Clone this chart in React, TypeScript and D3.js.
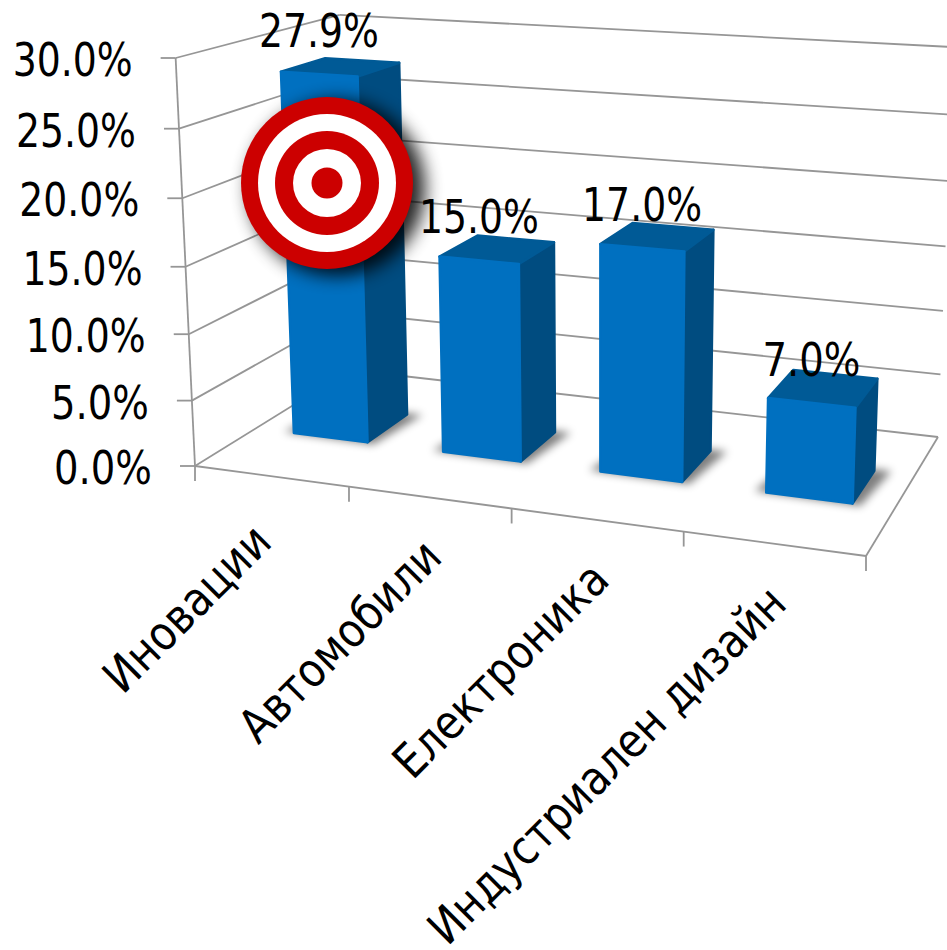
import React from "react";
import * as d3 from "d3";

const categories = ["Иновации", "Автомобили", "Електроника", "Индустриален дизайн"];
const values = [27.9, 15.0, 17.0, 7.0];
const yTicks = [0, 5, 10, 15, 20, 25, 30];

const width = 947;
const height = 950;
const font = "'DejaVu Sans', sans-serif";
const gridColor = "#969696";

// floor corners of the 3D box, in picture pixels: front-left, front-right, back-right, back-left
const floor = [[195, 466], [866, 556], [938, 437], [350, 370]];
const vanish = [600, 9000]; // where the verticals meet
const topOfAxisY = 58;

const makeProjection = () => {
  const [[x0, y0], [x1, y1], [x2, y2], [x3, y3]] = floor;
  const dx1 = x1 - x2, dx2 = x3 - x2, sx = x0 - x1 + x2 - x3;
  const dy1 = y1 - y2, dy2 = y3 - y2, sy = y0 - y1 + y2 - y3;
  const det = dx1 * dy2 - dx2 * dy1;
  const g = (sx * dy2 - dx2 * sy) / det;
  const h = (dx1 * sy - sx * dy1) / det;
  const a = x1 - x0 + g * x1, b = x3 - x0 + h * x3;
  const d = y1 - y0 + g * y1, e = y3 - y0 + h * y3;
  const t = (topOfAxisY - y0) / (vanish[1] - topOfAxisY);
  // u along the categories, v into the depth, w up the value axis (all 0..1)
  return (u: number, v: number, w: number): [number, number] => {
    const z = g * u + h * v + 1 + w * t;
    return [
      (a * u + b * v + x0 + w * t * vanish[0]) / z,
      (d * u + e * v + y0 + w * t * vanish[1]) / z,
    ];
  };
};

const project = makeProjection();
const xScale = d3.scaleBand<string>().domain(categories).range([0.003, 1.003]).paddingInner(0.5).paddingOuter(0.25);
const tickScale = d3.scaleLinear().domain([0, categories.length]).range([0, 1]);
const yScale = d3.scaleLinear().domain([0, 30]).range([0, 1]);
const depth = d3.scaleLinear().domain([0, 1]).range([0.36, 0.64]);
const poly = d3.line().curve(d3.curveLinearClosed);

const Bar = ({ name, value }: { name: string; value: number }) => {
  const u0 = xScale(name)!;
  const u1 = u0 + xScale.bandwidth();
  const v0 = depth(0), v1 = depth(1);
  const w = yScale(value);
  const f = (u: number, v: number, wv: number) => project(u, v, wv);
  const front = [f(u0, v0, 0), f(u1, v0, 0), f(u1, v0, w), f(u0, v0, w)];
  const side = [f(u1, v0, 0), f(u1, v1, 0), f(u1, v1, w), f(u1, v0, w)];
  const top = [f(u0, v0, w), f(u1, v0, w), f(u1, v1, w), f(u0, v1, w)];
  const pad = 0.012;
  const shadow = [f(u0 - pad * 1.4, v0, 0), f(u1 + pad, v0 - pad, 0), f(u1 + pad * 2, v1 + pad, 0), f(u0, v1 + pad, 0)];
  return (
    <g strokeLinejoin="round" strokeWidth={2.5}>
      <path d={poly(shadow as any)!} fill="#000" opacity={0.5} filter="url(#barShadow)" />
      <path d={poly(side as any)!} fill="#004C80" stroke="#004C80" />
      <path d={poly(top as any)!} fill="#005A96" stroke="#005A96" />
      <path d={poly(front as any)!} fill="#0070C0" stroke="#0070C0" />
    </g>
  );
};

const App = () => {
  const segment = (p: [number, number], q: [number, number], key: string) => (
    <line key={key} x1={p[0]} y1={p[1]} x2={q[0]} y2={q[1]} stroke={gridColor} strokeWidth={1.8} />
  );

  return (
    <svg
      width={width}
      height={height}
      viewBox={`0 0 ${width} ${height}`}
      style={{ position: "absolute", left: 0, top: 0, display: "block", background: "#fff" }}
    >
      <defs>
        <filter id="barShadow" x="-30%" y="-30%" width="160%" height="160%">
          <feGaussianBlur stdDeviation="4" />
        </filter>
        <filter id="targetShadow" x="-30%" y="-30%" width="160%" height="160%">
          <feGaussianBlur stdDeviation="9" />
        </filter>
      </defs>

      {/* walls and floor */}
      {yTicks.map((t) => {
        const w = yScale(t);
        return (
          <g key={t}>
            {segment(project(0, 0, w), project(0, 1, w), `l${t}`)}
            {segment(project(0, 1, w), project(1, 1, w), `b${t}`)}
            {segment(project(0, 0, w), [project(0, 0, w)[0] - 15, project(0, 0, w)[1]], `t${t}`)}
          </g>
        );
      })}
      {segment(project(0, 0, 0), project(0, 0, 1), "axis")}
      {segment(project(0, 0, 0), project(1, 0, 0), "front")}
      {segment(project(1, 0, 0), project(1, 1, 0), "right")}
      {d3.range(categories.length + 1).map((i) => {
        const p = project(tickScale(i), 0, 0);
        return segment(p, [p[0], p[1] + 15], `c${i}`);
      })}

      {categories.map((c, i) => (
        <Bar key={c} name={c} value={values[i]} />
      ))}

      {/* axis labels */}
      <g fontFamily={font} fontSize={47} fill="#000">
        {yTicks.map((t) => {
          const p = project(0, 0, yScale(t));
          const label = `${t.toFixed(1)}%`;
          return (
            <text
              key={t}
              x={p[0] - 43}
              y={p[1] + 18}
              textAnchor="end"
              textLength={t < 10 ? 98 : 120}
              lengthAdjust="spacingAndGlyphs"
            >
              {label}
            </text>
          );
        })}

        {/* data labels */}
        {categories.map((c, i) => {
          const u = xScale(c)! + xScale.bandwidth() / 2;
          const p = project(u, depth(0), yScale(values[i]));
          return (
            <text
              key={c}
              x={p[0]}
              y={p[1] - 27}
              textAnchor="middle"
              textLength={values[i] < 10 ? 98 : 120}
              lengthAdjust="spacingAndGlyphs"
            >
              {`${values[i].toFixed(1)}%`}
            </text>
          );
        })}

        {/* category labels */}
        {categories.map((c, i) => {
          const u = xScale(c)! + xScale.bandwidth() / 2;
          const p = project(u, 0, 0);
          // first label sits a little closer to the axis
          const nudgeX = i === 0 ? -12 : 0;
          const nudgeY = i === 0 ? 6 : 0;
          return (
            <text
              key={c}
              transform={`translate(${p[0] + 13 + nudgeX},${p[1] + 62 + nudgeY}) rotate(-45) scale(0.875,1)`}
              textAnchor="end"
            >
              {c}
            </text>
          );
        })}
      </g>

      {/* target */}
      <g>
        <circle cx={337} cy={188} r={88} fill="#000" opacity={0.85} filter="url(#targetShadow)" />
        {[86, 69, 52, 34, 15.5].map((r, i) => (
          <circle key={r} cx={327} cy={183} r={r} fill={i % 2 === 0 ? "#CC0000" : "#fff"} />
        ))}
      </g>
    </svg>
  );
};

export default App;
